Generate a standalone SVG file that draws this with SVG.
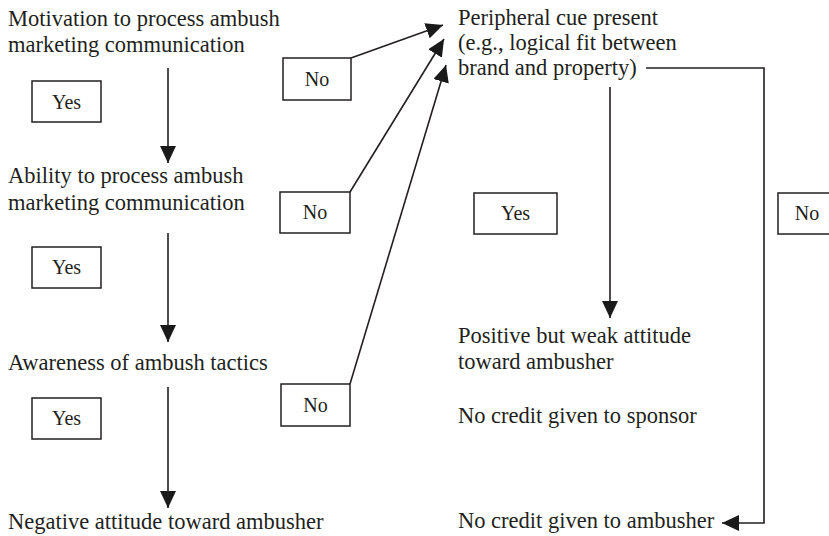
<svg xmlns="http://www.w3.org/2000/svg" width="829" height="536" viewBox="0 0 829 536">
<defs>
<marker id="ah" markerUnits="userSpaceOnUse" markerWidth="18" markerHeight="16" refX="17" refY="8" orient="auto">
<path d="M0,0 L17,8 L0,16 z" fill="#1a1a1a"/>
</marker>
<style>
.t{font-family:"Liberation Serif","Times New Roman",serif;font-size:22.5px;fill:#231f20}
.l{font-family:"Liberation Serif","Times New Roman",serif;font-size:20px;fill:#231f20;text-anchor:middle}
.b{fill:#fff;stroke:#231f20;stroke-width:1.5}
.c{fill:none;stroke:#231f20;stroke-width:1.6}
</style>
</defs>
<rect width="829" height="536" fill="#fff"/>
<g id="motivation"><text class="t" x="8" y="26">Motivation to process ambush</text><text class="t" x="8" y="52">marketing communication</text></g>
<g id="ability"><text class="t" x="8" y="183">Ability to process ambush</text><text class="t" x="8" y="210">marketing communication</text></g>
<g id="awareness"><text class="t" x="8" y="370">Awareness of ambush tactics</text></g>
<g id="negative"><text class="t" x="8" y="529">Negative attitude toward ambusher</text></g>
<g id="peripheral"><text class="t" x="458" y="25">Peripheral cue present</text><text class="t" x="458" y="50">(e.g., logical fit between</text><text class="t" x="458" y="75">brand and property)</text></g>
<g id="positive"><text class="t" x="458" y="343">Positive but weak attitude</text><text class="t" x="458" y="369">toward ambusher</text></g>
<g id="nosponsor"><text class="t" x="458" y="423">No credit given to sponsor</text></g>
<g id="noambusher"><text class="t" x="458" y="528">No credit given to ambusher</text></g>
<g id="yes1"><rect class="b" x="32" y="81" width="69" height="41"/><text class="l" x="66.5" y="109">Yes</text></g>
<g id="yes2"><rect class="b" x="32" y="247" width="69" height="41"/><text class="l" x="66.5" y="274">Yes</text></g>
<g id="yes3"><rect class="b" x="32" y="398" width="69" height="41"/><text class="l" x="66.5" y="425">Yes</text></g>
<g id="no1"><rect class="b" x="283" y="58" width="68" height="42"/><text class="l" x="317" y="86">No</text></g>
<g id="no2"><rect class="b" x="280" y="192" width="70" height="41"/><text class="l" x="315" y="219">No</text></g>
<g id="no3"><rect class="b" x="281" y="384" width="69" height="42"/><text class="l" x="315.5" y="412">No</text></g>
<g id="yes4"><rect class="b" x="474" y="193" width="83" height="41"/><text class="l" x="515.5" y="220">Yes</text></g>
<g id="no4"><rect class="b" x="778" y="193" width="60" height="41"/><text class="l" x="807" y="220">No</text></g>
<g id="connectors">
<line class="c" x1="168" y1="68" x2="168" y2="163" marker-end="url(#ah)"/>
<line class="c" x1="168" y1="233" x2="168" y2="342" marker-end="url(#ah)"/>
<line class="c" x1="168" y1="387" x2="168" y2="508" marker-end="url(#ah)"/>
<line class="c" x1="351" y1="58" x2="443" y2="25" marker-end="url(#ah)"/>
<line class="c" x1="350" y1="192" x2="444" y2="39" marker-end="url(#ah)"/>
<line class="c" x1="350" y1="384" x2="446" y2="65" marker-end="url(#ah)"/>
<line class="c" x1="610" y1="87" x2="610" y2="318" marker-end="url(#ah)"/>
<polyline class="c" points="646,68 764,68 764,523 722,523" marker-end="url(#ah)"/>
</g>
</svg>
